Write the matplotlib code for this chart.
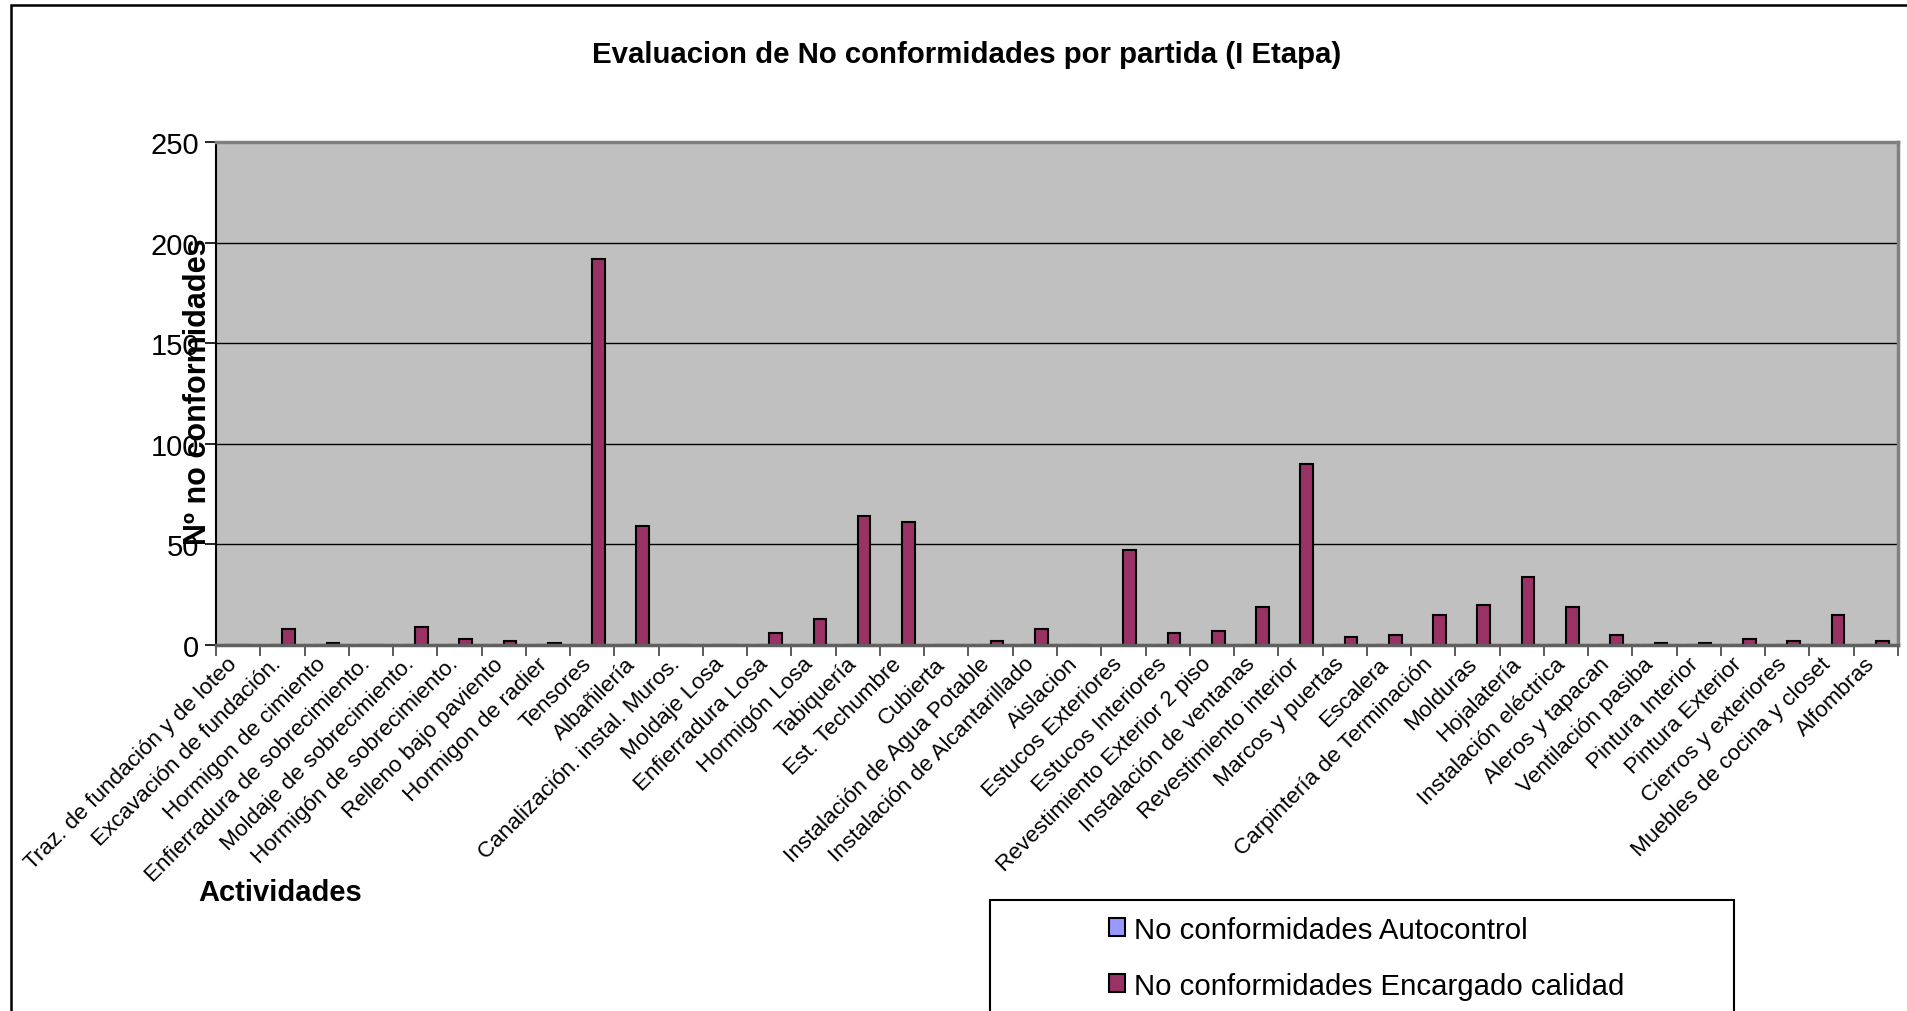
import matplotlib
matplotlib.use("Agg")
import matplotlib.pyplot as plt
from matplotlib.patches import Rectangle
import numpy as np

plt.rcParams['font.family'] = ['Liberation Sans', 'DejaVu Sans']

categories = [
    "Traz. de fundación y de loteo", "Excavación de fundación.", "Hormigon de cimiento",
    "Enfierradura de sobrecimiento.", "Moldaje de sobrecimiento.", "Hormigón de sobrecimiento.",
    "Relleno bajo paviento", "Hormigon de radier", "Tensores", "Albañilería",
    "Canalización. instal. Muros.", "Moldaje Losa", "Enfierradura Losa", "Hormigón Losa",
    "Tabiquería", "Est. Techumbre", "Cubierta", "Instalación de Agua Potable",
    "Instalación de Alcantarillado", "Aislacion", "Estucos Exteriores", "Estucos Interiores",
    "Revestimiento Exterior 2 piso", "Instalación de ventanas", "Revestimiento interior",
    "Marcos y puertas", "Escalera", "Carpintería de Terminación", "Molduras", "Hojalatería",
    "Instalación eléctrica", "Aleros y tapacan", "Ventilación pasiba", "Pintura Interior",
    "Pintura Exterior", "Cierros y exteriores", "Muebles de cocina y closet", "Alfombras",
]
autocontrol = [0] * 38
encargado = [0, 8, 1, 0, 9, 3, 2, 1, 192, 59,
             0, 0, 6, 13, 64, 61, 0, 2, 8, 0,
             47, 6, 7, 19, 90, 4, 5, 15, 20, 34,
             19, 5, 1, 1, 3, 2, 15, 2]
series_names = ["No conformidades Autocontrol", "No conformidades Encargado calidad"]
y_ticks = [0, 50, 100, 150, 200, 250]

W, H = 1908, 1012
fig = plt.figure(figsize=(W / 100, H / 100), dpi=100)
fig.patch.set_facecolor('white')

ax = fig.add_axes([216 / W, 1 - 646 / H, (1898 - 216) / W, (646 - 143) / H])
ax.set_facecolor('#C0C0C0')

x = np.arange(len(categories))
bw = 0.286
ax.bar(x - bw / 2, autocontrol, width=bw, color='#9999FF', edgecolor='black', linewidth=1.5,
       label=series_names[0], zorder=3)
ax.bar(x + bw / 2, encargado, width=bw, color='#993366', edgecolor='black', linewidth=1.5,
       label=series_names[1], zorder=3)

ax.set_xlim(-0.5, len(categories) - 0.5)
ax.set_ylim(0, 250)
ax.set_yticks(y_ticks)
ax.set_yticklabels([str(v) for v in y_ticks], fontsize=21)
ax.yaxis.grid(True, color='black', linewidth=1.0, zorder=1)
ax.set_axisbelow(True)

ax.set_xticks(np.arange(len(categories) + 1) - 0.5)
ax.set_xticklabels([])
ax.set_xticks(x, minor=True)
ax.set_xticklabels(categories, minor=True, rotation=45, ha='right', va='baseline',
                   rotation_mode='anchor', fontsize=16.2)
ax.tick_params(axis='x', which='major', length=8, width=1.2, color='#404040', direction='out')
ax.tick_params(axis='x', which='minor', length=0, pad=14)
ax.tick_params(axis='y', length=8, width=1.2, direction='out', pad=4)

ax.spines['left'].set_color('black')
ax.spines['left'].set_linewidth(1.5)
ax.spines['bottom'].set_color('#606060')
ax.spines['bottom'].set_linewidth(2.5)
ax.spines['bottom'].set_zorder(5)
ax.spines['top'].set_color('#808080')
ax.spines['top'].set_linewidth(2.5)
ax.spines['right'].set_color('#808080')
ax.spines['right'].set_linewidth(2.5)

fig.text(967 / W, 1 - 55 / H, "Evaluacion de No conformidades por partida (I Etapa)",
         ha='center', va='center', fontsize=21.2, fontweight='bold')
fig.text(198 / W, 1 - 392 / H, "Nº no conformidades", rotation=90,
         ha='center', va='center', fontsize=22, fontweight='bold')
fig.text(198 / W, 1 - 893 / H, "Actividades", ha='left', va='center',
         fontsize=21, fontweight='bold')

# chart-area border (clipped at right and bottom as in the reference)
fig.add_artist(Rectangle((11 / W, -0.1), 1.2, 1 - 6 / H + 0.1, transform=fig.transFigure,
                         fill=False, edgecolor='black', linewidth=1.8))
# legend frame
fig.add_artist(Rectangle((990 / W, -0.1), (1734 - 990) / W, 1 - 901 / H + 0.1,
                         transform=fig.transFigure, fill=False, edgecolor='black', linewidth=1.5))
handles, labels = ax.get_legend_handles_labels()
fig.legend(handles, labels, loc='upper left', bbox_to_anchor=(1094 / W, 1 - 902 / H),
           frameon=False, fontsize=21.2, handlelength=0.55, handleheight=0.55,
           handletextpad=0.3, labelspacing=0.95, borderpad=0)

fig.savefig("out.png", dpi=100)
